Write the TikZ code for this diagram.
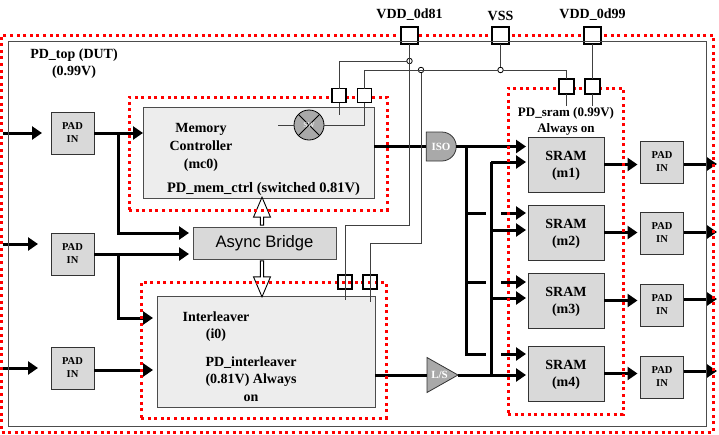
\documentclass[tikz,border=0pt]{standalone}
\usepackage{fontspec}
\setmainfont{Liberation Serif}
\newfontfamily\arialfont{Liberation Sans}
\usetikzlibrary{arrows.meta,positioning,calc,shapes.arrows,shapes.geometric,shapes.misc}
\definecolor{boxgray}{HTML}{D9D9D9}
\definecolor{dithergray}{HTML}{EDEDED}
\definecolor{gategray}{HTML}{A9A9A9}

\begin{document}
\begin{tikzpicture}[x=1pt,y=-1pt,
    padbox/.style={rectangle,draw=black!80,fill=boxgray,line width=0.8pt,minimum width=43pt,minimum height=42pt,inner sep=0pt,outer sep=0pt,align=center,font=\fontsize{10.5}{13}\selectfont\bfseries},
    srambox/.style={rectangle,draw=black!80,fill=boxgray,line width=0.8pt,minimum width=76pt,minimum height=55pt,inner sep=0pt,outer sep=0pt,align=center,text depth=0pt,font=\fontsize{14}{17.5}\selectfont\bfseries},
    logicbox/.style={rectangle,draw=black!70,fill=dithergray,line width=0.8pt,inner sep=0pt,outer sep=0pt},
    pdbox/.style={rectangle,draw=red,line width=3pt,dash pattern=on 3pt off 3.6pt,inner sep=0pt,outer sep=0pt},
    powerpad/.style={rectangle,draw=black,line width=1.2pt,minimum size=14pt,inner sep=0pt,outer sep=0pt},
    fillpad/.style={powerpad,fill=white},
    toppad/.style={powerpad,fill=white,minimum size=17pt},
    rail/.style={draw=black!75,line width=1pt},
    bus/.style={draw=black,line width=3pt},
    busarrow/.style={bus,-{Triangle[length=10pt,width=13pt]}},
    ringdot/.style={circle,draw=black,line width=0.8pt,minimum size=5.5pt,inner sep=0pt,outer sep=0pt},
    blockarrow/.style={single arrow,draw=black,line width=0.9pt,minimum width=17pt,single arrow head extend=2pt,single arrow tip angle=46,inner sep=0pt,outer sep=0pt},
    lbl/.style={inner sep=0pt,align=center,font=\fontsize{14}{17.6}\selectfont\bfseries},
    toplbl/.style={inner sep=0pt,font=\fontsize{14}{17}\selectfont\bfseries},
    gatelbl/.style={inner sep=0pt,text=white,font=\fontsize{11}{13}\selectfont\bfseries}]
    \useasboundingbox (0,0) rectangle (719,434);

    % left pads
    \node[padbox] (padlA) at (72.5,133) {PAD\\IN};
    \node[padbox] (padlB) [below=79pt of padlA] {PAD\\IN};
    \node[padbox] (padlC) [below=72pt of padlB] {PAD\\IN};

    % logic blocks
    \node[logicbox,minimum width=231pt,minimum height=91pt] (memctl) at (258.5,152.5) {};
    \node[logicbox,minimum width=218pt,minimum height=111pt] (inter) at (266,351.5) {};
    \node[rectangle,draw=black!70,fill=boxgray,line width=0.8pt,minimum width=143pt,minimum height=32pt,inner sep=0pt,outer sep=0pt,font=\arialfont\fontsize{16.6}{18}\selectfont] (bridge) at (264.5,243) {Async Bridge};

    % sram column
    \node[srambox] (mA) at (566,164.5) {SRAM\\(m1)};
    \node[srambox] (mB) [below=13pt of mA] {SRAM\\(m2)};
    \node[srambox] (mC) [below=13pt of mB] {SRAM\\(m3)};
    \node[srambox] (mD) [below=18pt of mC] {SRAM\\(m4)};

    % right pads
    \node[padbox] (padrA) at (662,162) {PAD\\IN};
    \node[padbox] (padrB) [below=29pt of padrA] {PAD\\IN};
    \node[padbox] (padrC) [below=30pt of padrB] {PAD\\IN};
    \node[padbox] (padrD) [below=30pt of padrC] {PAD\\IN};

    % isolation and level shifter
    \node[rounded rectangle,rounded rectangle left arc=none,draw=black!80,fill=gategray,line width=0.8pt,minimum width=30pt,minimum height=29pt,inner sep=0pt,outer sep=0pt,gatelbl] (iso) at (441,146.5) {ISO};
    \node[isosceles triangle,isosceles triangle stretches,draw=black!80,fill=gategray,line width=0.8pt,minimum width=35pt,minimum height=31pt,inner sep=0pt,outer sep=0pt,anchor=lower side] (ls) at (427,375) {};
    \node[gatelbl] (lslbl) at (439.5,375) {L/S};

    % free ends of the buses
    \coordinate (inA) at (3,133);
    \coordinate (inB) at (3,244);
    \coordinate (inC) at (3,368);
    \coordinate (forkA) at (118,133);
    \coordinate (forkB) at (padlB.east -| forkA);
    \coordinate (brgA) at (189,233);
    \coordinate (interA) at (153,318);
    \coordinate (interB) at (153,370);
    \coordinate (tipAa) at (526,146.5);
    \coordinate (tipAb) at (526,162);
    \coordinate (tipBa) at (526,213);
    \coordinate (tipBb) at (526,230);
    \coordinate (tipCa) at (526,282);
    \coordinate (tipCb) at (526,298);
    \coordinate (tipDa) at (526,354);
    \coordinate (tipDb) at (526,375);
    \coordinate (busA) at (466,146.5);
    \coordinate (busB) at (491,162);
    \coordinate (outA) at (717,164);
    \coordinate (outB) at (717,232);
    \coordinate (outC) at (717,299);
    \coordinate (outD) at (717,371);

    % thick buses
    \path[every edge/.style={busarrow}]
    (inA) edge ([xshift=-9pt]padlA.west)
    (inB) edge (inB -| 38,0)
    (inC) edge (inC -| 38,0)
    (padlA.east) edge (padlA.east -| memctl.west)
    (padlB.east) edge (padlB.east -| brgA)
    ([yshift=-2pt]padlC.east) edge (interB)
    (iso.east) edge (tipAa)
    (busB) edge (tipAb)
    (tipBb -| busB) edge (tipBb)
    (tipCb -| busB) edge (tipCb)
    (ls.apex) edge (tipDb)
    ($(tipBa)+(-25,0)$) edge (tipBa)
    ($(tipCa)+(-25,0)$) edge (tipCa)
    ($(tipDa)+(-25,0)$) edge (tipDa)
    (mA.east) edge ([xshift=-3pt]mA.east -| padrA.west)
    (mB.east) edge ([xshift=-3pt]mB.east -| padrB.west)
    (mC.east) edge ([xshift=-3pt]mC.east -| padrC.west)
    (mD.east) edge ([xshift=-3pt]mD.east -| padrD.west)
    (padrA.east |- outA) edge (outA)
    (padrB.east |- outB) edge (outB)
    (padrC.east |- outC) edge (outC)
    (padrD.east |- outD) edge (outD)
    ;
    \draw[busarrow] (forkA) |- (brgA);
    \draw[busarrow] (forkB) |- (interA);
    \draw[bus] (iso.west -| memctl.east) -- (iso.west);
    \draw[bus] (inter.east |- ls.lower side) -- (ls.lower side);
    \draw[bus] (busA) -- (busA |- tipDa) -- ++(20,0);
    \draw[bus] (busB) -- (busB |- tipDb);
    \draw[bus] (tipBa -| busA) -- ++(20,0);
    \draw[bus] (tipCa -| busA) -- ++(20,0);

    % block arrows of the bridge
    \node[blockarrow,rotate=90,minimum height=28pt] (bridgeup) at (262,213) {};
    \node[blockarrow,rotate=-90,minimum height=36pt] (bridgedown) at (262,277) {};

    % power domains
    \node[pdbox,minimum width=711.5pt,minimum height=397pt] (pdouter) at (357.25,233.5) {};
    \node[pdbox,minimum width=258pt,minimum height=113pt] (pdmem) at (258,153.5) {};
    \node[pdbox,minimum width=245pt,minimum height=136pt] (pdinter) at (263.5,350) {};
    \node[pdbox,minimum width=115pt,minimum height=326pt] (pdsram) at (565.5,251) {};

    % supply pads
    \node[toppad] (vddA) at (409.5,35.5) {};
    \node[toppad] (vss) at (500.5,35.5) {};
    \node[toppad] (vddB) at (592.5,35.5) {};
    \node[fillpad] (mempA) at (339,95.5) {};
    \node[fillpad] (mempB) at (364.5,95.5) {};
    \node[powerpad] (interpA) at (345,282) {};
    \node[powerpad] (interpB) at (370,282) {};
    \node[fillpad,minimum width=15pt,minimum height=15pt] (srampA) at (566.5,86.5) {};
    \node[fillpad,minimum width=15pt,minimum height=15pt] (srampB) at (592.5,86.5) {};
    \node[rectangle,draw=black!70,line width=0.9pt,minimum width=698pt,minimum height=385pt,inner sep=0pt,outer sep=0pt] (pdtop) at (357,233.5) {};

    % switch
    \node[circle,draw=black,fill=gategray,line width=0.8pt,minimum size=30pt,inner sep=0pt,outer sep=0pt] (sw) at (309,125) {};
    \draw[black,line width=0.8pt] (sw.45) -- (sw.225);
    \draw[black,line width=0.8pt] (sw.135) -- (sw.-45);
    \node[inner sep=0pt,text=white,font=\fontsize{7.5}{9}\selectfont] (swlbl) at (sw) {SW};

    % supply rails
    \node[ringdot] (dotA) at (vddA.south |- 0,61) {};
    \node[ringdot] (dotB) at (421,70) {};
    \node[ringdot] (dotC) at (vss.south |- 0,70) {};
    \coordinate (railA) at (interpA.north |- 0,225.5);
    \coordinate (railB) at (interpB.north |- 0,243);
    \draw[rail] (vddA.south) |- (railA) -- ++(0,74.5);
    \draw[rail] (dotB) |- (railB) -- ++(0,59);
    \draw[rail] (vss.south) -- (dotC);
    \draw[rail] (mempB.north) |- (dotC);
    \draw[rail] (dotC) -| (srampA.north);
    \draw[rail] (mempA.north) |- (dotA);
    \draw[rail] (vddB.south) -- (srampB.north);
    \draw[rail] (mempA.south) -- ++(0,12);
    \draw[rail] (mempB.south) |- (sw.east);
    \draw[rail] (sw.west) -- ++(-16,0);
    \draw[rail] (srampA.south) -- ++(0,12);
    \draw[rail] (srampB.south) -- ++(0,12);

    % texts
    \node[toplbl] (vddAlbl) [above=6pt of vddA] {VDD\_0d81};
    \node[toplbl] (vsslbl) [above=6pt of vss] {VSS};
    \node[toplbl] (vddBlbl) [above=6pt of vddB] {VDD\_0d99};
    \node[lbl] (toplbl) at (74,63.5) {PD\_top (DUT)\\(0.99V)};
    \node[lbl] (memlbl) at (201,147.5) {Memory\\Controller\\(mc0)};
    \node[lbl,font=\fontsize{14.5}{17}\selectfont\bfseries] (pdmemlbl) at (263.5,189.5) {PD\_mem\_ctrl (switched 0.81V)};
    \node[lbl] (interlbl) at (216,326.5) {Interleaver\\(i0)};
    \node[lbl] (pdinterlbl) at (251,379) {PD\_interleaver\\(0.81V) Always\\on};
    \node[lbl,font=\fontsize{13}{15.5}\selectfont\bfseries] (pdsramlbl) at (566,121.5) {PD\_sram (0.99V)\\Always on};
\end{tikzpicture}
\end{document}
